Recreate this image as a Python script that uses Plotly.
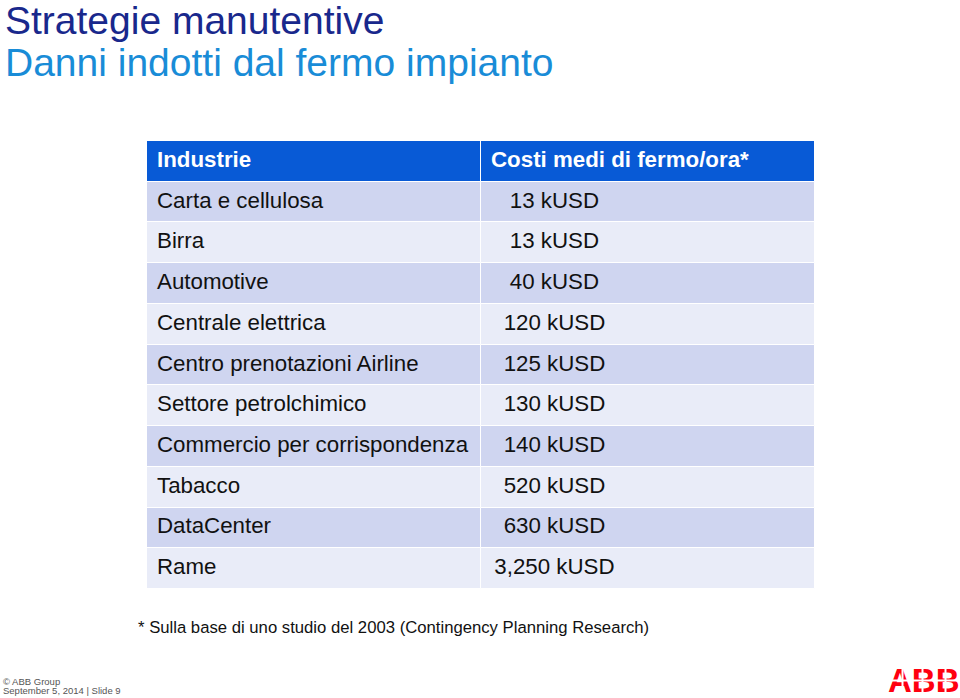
import plotly.graph_objects as go

# ---- data ----
industries = [
    "Carta e cellulosa",
    "Birra",
    "Automotive",
    "Centrale elettrica",
    "Centro prenotazioni Airline",
    "Settore petrolchimico",
    "Commercio per corrispondenza",
    "Tabacco",
    "DataCenter",
    "Rame",
]
costs_kusd = [13, 13, 40, 120, 125, 130, 140, 520, 630, 3250]
header = ["Industrie", "Costi medi di fermo/ora*"]
unit = "kUSD"
title = "Strategie manutentive"
subtitle = "Danni indotti dal fermo impianto"
footnote = "* Sulla base di uno studio del 2003 (Contingency Planning Research)"
footer = ["© ABB Group", "September 5, 2014 | Slide 9"]

# ---- styling ----
W, H = 960, 698
FONT = "Liberation Sans, Arial, sans-serif"
HEADER_BG = "rgb(8,90,214)"
ODD_BG = "rgb(207,213,240)"
EVEN_BG = "rgb(233,236,248)"
TS = 22.3

labels = [header[0]] + industries
value_text = [f"{v:,} {unit}" for v in costs_kusd]
rows = list(range(len(labels)))
row_colors = [HEADER_BG] + [ODD_BG if i % 2 == 0 else EVEN_BG for i in range(len(industries))]

fig = go.Figure()
for col in range(2):
    fig.add_trace(go.Bar(
        orientation="h", y=rows, x=[1] * len(rows), base=[col] * len(rows),
        width=1, marker=dict(color=row_colors, line=dict(color="white", width=1)),
        hoverinfo="skip", showlegend=False,
    ))

# column 1 text
fig.add_trace(go.Scatter(
    x=[0.03] * len(labels), y=rows, mode="text",
    text=["<b>" + labels[0] + "</b>"] + labels[1:],
    textposition="middle right",
    textfont=dict(family=FONT, size=TS, color=["white"] + ["#111"] * len(industries)),
    hoverinfo="skip", showlegend=False,
))
# column 2 header
fig.add_trace(go.Scatter(
    x=[1.03], y=[0], mode="text", text=["<b>" + header[1] + "</b>"],
    textposition="middle right",
    textfont=dict(family=FONT, size=TS, color="white"),
    hoverinfo="skip", showlegend=False,
))
# column 2 values
fig.add_trace(go.Scatter(
    x=[1.22] * len(value_text), y=rows[1:], mode="text", text=value_text,
    textposition="middle center",
    textfont=dict(family=FONT, size=TS, color="#111"),
    hoverinfo="skip", showlegend=False,
))

def py(p):
    return 1 - p / H

def px(p):
    return p / W

annotations = [
    dict(text=title, x=px(3), y=py(20), xanchor="left", yanchor="middle",
         font=dict(family=FONT, size=39, color="rgb(25,40,140)")),
    dict(text=subtitle, x=px(3), y=py(62), xanchor="left", yanchor="middle",
         font=dict(family=FONT, size=39, color="rgb(25,140,215)")),
    dict(text=footnote, x=px(136), y=py(627), xanchor="left", yanchor="middle",
         font=dict(family=FONT, size=16.7, color="#111")),
    dict(text=footer[0], x=px(1), y=py(681.5), xanchor="left", yanchor="middle",
         font=dict(family=FONT, size=9.5, color="#555")),
    dict(text=footer[1], x=px(1), y=py(690.5), xanchor="left", yanchor="middle",
         font=dict(family=FONT, size=9.5, color="#555")),
    dict(text="<b>ABB</b>", x=px(924), y=py(680), xanchor="center", yanchor="middle",
         font=dict(family=FONT, size=33, color="rgb(255,0,15)")),
]
# white stripes of the logo (drawn above the logo text)
annotations.append(dict(text=" ", x=px(924), y=py(680), xanchor="center", yanchor="middle",
                        width=76, height=1, borderpad=0, bgcolor="white",
                        font=dict(size=1)))
for xv in [902, 922, 945]:
    annotations.append(dict(text=" ", x=px(xv), y=py(680), xanchor="center", yanchor="middle",
                            width=1, height=32, borderpad=0, bgcolor="white",
                            font=dict(size=1)))
for a in annotations:
    a.update(xref="paper", yref="paper", showarrow=False)

fig.update_layout(
    width=W, height=H, margin=dict(l=0, r=0, t=0, b=0),
    paper_bgcolor="white", plot_bgcolor="white",
    barmode="overlay", bargap=0,
    xaxis=dict(range=[0, 2], domain=[px(147), px(815)], visible=False, fixedrange=True),
    yaxis=dict(range=[len(labels) - 0.5, -0.5], domain=[py(589), py(141)],
               visible=False, fixedrange=True),
    annotations=annotations,
)
fig.write_html("out.html", config={"displayModeBar": False},
               post_script="document.body.style.margin='0';document.body.style.overflow='hidden';")
